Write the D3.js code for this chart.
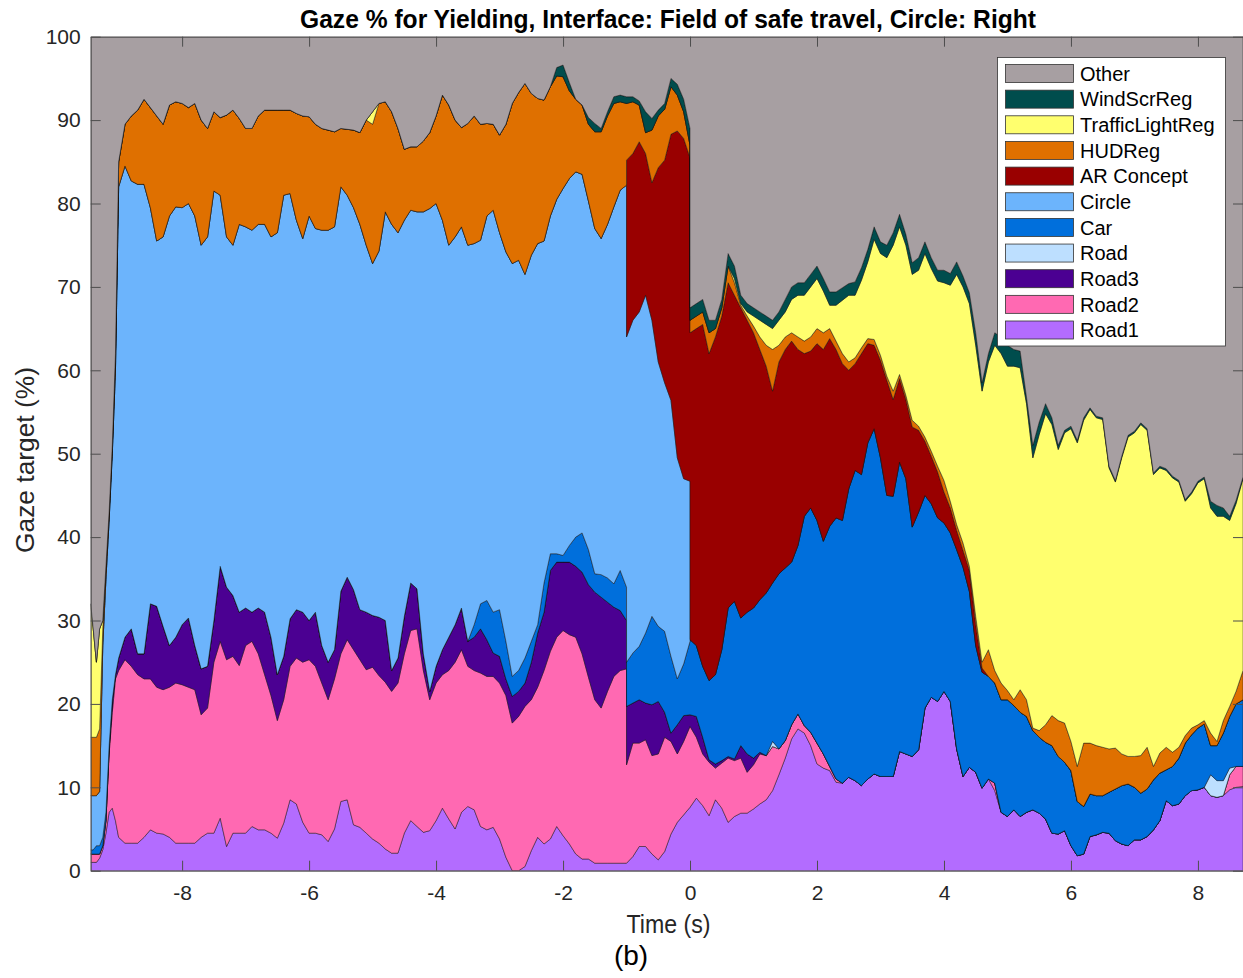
<!DOCTYPE html>
<html>
<head>
<meta charset="utf-8">
<script src="https://cdn.jsdelivr.net/npm/d3@7"></script>
<style>
  body { margin: 0; background: #fff; }
  svg { display: block; font-family: "Liberation Sans", Arial, Helvetica, sans-serif; }
</style>
</head>
<body>
<div id="chart"></div>
<script>
// time axis (s); -1.0 and 0.0 appear twice for the sharp jumps
var time = [
  -9.44, -9.4, -9.35, -9.3, -9.25, -9.2, -9.15, -9.1, -9.05, -9.0,
  -8.9, -8.8, -8.7, -8.6, -8.5, -8.4, -8.3, -8.2, -8.1, -8.0,
  -7.9, -7.8, -7.7, -7.6, -7.5, -7.4, -7.3, -7.2, -7.1, -7.0,
  -6.9, -6.8, -6.7, -6.6, -6.5, -6.4, -6.3, -6.2, -6.1, -6.0,
  -5.9, -5.8, -5.7, -5.6, -5.5, -5.4, -5.3, -5.2, -5.1, -5.0,
  -4.9, -4.8, -4.7, -4.6, -4.5, -4.4, -4.3, -4.2, -4.1, -4.0,
  -3.9, -3.8, -3.7, -3.6, -3.5, -3.4, -3.3, -3.2, -3.1, -3.0,
  -2.9, -2.8, -2.7, -2.6, -2.5, -2.4, -2.3, -2.2, -2.1, -2.0,
  -1.9, -1.8, -1.7, -1.6, -1.5, -1.4, -1.3, -1.2, -1.1, -1.0,
  -1.0, -0.9, -0.8, -0.7, -0.6, -0.5, -0.4, -0.3, -0.2, -0.1,
  0.0, 0.0, 0.1, 0.2, 0.3, 0.4, 0.5, 0.6, 0.7, 0.8,
  0.9, 1.0, 1.1, 1.2, 1.3, 1.4, 1.5, 1.6, 1.7, 1.8,
  1.9, 2.0, 2.1, 2.2, 2.3, 2.4, 2.5, 2.6, 2.7, 2.8,
  2.9, 3.0, 3.1, 3.2, 3.3, 3.4, 3.5, 3.6, 3.7, 3.8,
  3.9, 4.0, 4.1, 4.2, 4.3, 4.4, 4.5, 4.6, 4.7, 4.8,
  4.9, 5.0, 5.1, 5.2, 5.3, 5.4, 5.5, 5.6, 5.7, 5.8,
  5.9, 6.0, 6.1, 6.2, 6.3, 6.4, 6.5, 6.6, 6.7, 6.8,
  6.9, 7.0, 7.1, 7.2, 7.3, 7.4, 7.5, 7.6, 7.7, 7.8,
  7.9, 8.0, 8.1, 8.2, 8.3, 8.4, 8.5, 8.6, 8.71
];

// gaze share per target (%), bottom layer first
var road1 = [
  1, 1, 1, 1.5, 2.5, 4.5, 7, 7.5, 6, 4,
  3.3, 3.3, 3.3, 4, 4.9, 4.5, 4.4, 4, 3.3, 3.3,
  3.3, 3.3, 4, 4.5, 4.5, 6.3, 2.9, 4.5, 4.5, 4.5,
  5.3, 4.9, 4.9, 4.5, 3.9, 5.7, 8.5, 8, 5.8, 4.5,
  4.5, 4.3, 3.5, 5, 8.3, 8.5, 5.5, 5.2, 4.5, 3.8,
  3.3, 2.6, 2.1, 2.1, 4.5, 6, 5.3, 4.6, 4.8, 6,
  7.5, 6.2, 5, 7, 7.7, 7.3, 5.3, 4.9, 5.2, 3.8,
  1.6, 0, 0, 0.5, 2.4, 4, 3.2, 3.8, 5.3, 4.2,
  3.2, 2, 1.4, 1.4, 0.9, 0.9, 0.9, 0.9, 0.9, 0.9,
  0.9, 1.7, 2.9, 2.9, 2, 1.3, 2.3, 4.4, 5.8, 6.7,
  7.6, 7.6, 8.7, 7.8, 6.6, 8.5, 7.5, 5.8, 6.5, 6.9,
  6.9, 7.4, 8, 8.5, 9.6, 11.5, 13.5, 15.8, 17, 16.5,
  15, 12.8, 12.3, 12, 10.6, 10.5, 11.2, 10.8, 10.2, 11,
  11.6, 11.3, 11.3, 11.3, 14.3, 14, 13.7, 14.5, 19.5, 20.8,
  20.3, 21.5, 20.3, 14.6, 11.3, 12.4, 11.8, 9.9, 11, 9.6,
  7, 6.5, 7.3, 6.5, 7, 7.3, 6.9, 6.2, 4.5, 4.4,
  4.8, 3, 1.8, 2, 4.1, 4.3, 4.6, 4.5, 3.6, 3.2,
  3, 3.7, 3.7, 4.1, 4.9, 6, 8.4, 7.8, 8, 9,
  9.6, 9.7, 10, 9, 8.8, 9, 9.7, 10, 10.1
];
var road2 = [
  1, 1, 1, 0.5, 0.5, 1.5, 7, 11.5, 17, 20,
  22, 21.2, 20.2, 19, 18.1, 17.5, 17.3, 18, 19.2, 19,
  18.7, 18.4, 14.7, 15, 20.5, 21.2, 22.4, 21.2, 20.1, 22.5,
  22.2, 21.1, 18.6, 16.5, 14.1, 14.8, 16, 17.5, 19.2, 20.8,
  20, 18.2, 17, 18, 17.7, 19.2, 21, 20.1, 19.6, 20.6,
  20.1, 20, 19.4, 20.4, 21.5, 22.8, 23.7, 19.4, 15.7, 16.5,
  16, 17.8, 20, 19.5, 16.8, 16.7, 18.4, 18.4, 18.1, 18.7,
  19.4, 17.7, 18.5, 19.2, 18.1, 18, 20.8, 22.5, 22.7, 24.6,
  25.1, 26, 24.6, 21.8, 19.6, 18.6, 20.6, 22.4, 23.1, 23.3,
  11.8, 13.6, 12.4, 12.8, 11.8, 12.7, 13.7, 11.1, 8.2, 8.8,
  9.7, 9.7, 7.3, 6.2, 6.4, 3.8, 5.4, 7.7, 6.7, 6.6,
  4.9, 5.3, 6, 5.3, 5.3, 3.1, 2.1, 1.7, 1.8, 0.9,
  1.6, 2.5, 1.7, 0.5, 0.4, 0, 0, 0, 0, 0,
  0, 0, 0, 0, 0, 0, 0, 0, 0, 0,
  0, 0, 0, 0, 0, 0, 0, 0, 0, 0.9,
  0, 0, 0, 0, 0, 0, 0, 0, 0, 0,
  0, 0, 0, 0, 0, 0, 0, 0, 0, 0,
  0, 0, 0, 0, 0, 0, 0, 0, 0, 0,
  0, 0, 0, 0, 0, 0, 1.8, 2.5, 2.4
];
var road3 = [
  0, 0, 0, 0, 0, 0, 0.5, 1.5, 0.5, 1.5,
  2.7, 4.5, 2.5, 3, 9, 9.7, 7.6, 5, 5.5, 7.2,
  8.3, 5.3, 5.5, 5, 5, 9, 8.7, 7.3, 6.4, 4.5,
  3.5, 5.5, 7.5, 7, 5.5, 5.2, 5.7, 5.8, 6, 4.7,
  6.5, 4.5, 4.5, 3.5, 7.5, 7.5, 7.2, 6, 6.9, 6.2,
  7, 7.4, 2.5, 3, 4.5, 5.7, 4.8, 2, 1, 2,
  3, 4, 4.5, 5, 3, 4, 5.3, 4.4, 2.8, 3.2,
  2, 3.2, 3, 2.8, 4.5, 6.5, 7, 9.7, 9, 8.2,
  8.7, 8.5, 9.8, 11.1, 12.9, 13.3, 10.7, 8.3, 7.2, 5.8,
  7, 4.8, 5.2, 4.4, 6.1, 6.3, 3, 1, 3.5, 3.1,
  1.4, 1.4, 2.5, 2, 0.3, 0.5, 0.3, 0.2, 0.2, 1.5,
  2.2, 0.8, 0.2, 0, 0, 0, 0, 0, 0, 0,
  0, 0, 0, 0, 0, 0, 0, 0, 0, 0,
  0, 0, 0, 0, 0, 0, 0, 0, 0, 0,
  0, 0, 0, 0, 0, 0, 0, 0, 0, 0,
  0, 0, 0, 0, 0, 0, 0, 0, 0, 0,
  0, 0, 0, 0, 0, 0, 0, 0, 0, 0,
  0, 0, 0, 0, 0, 0, 0, 0, 0, 0,
  0, 0, 0, 0, 0, 0, 0, 0, 0
];
var road = [
  0, 0, 0, 0, 0, 0, 0, 0, 0, 0,
  0, 0, 0, 0, 0, 0, 0, 0, 0, 0,
  0, 0, 0, 0, 0, 0, 0, 0, 0, 0,
  0, 0, 0, 0, 0, 0, 0, 0, 0, 0,
  0, 0, 0, 0, 0, 0, 0, 0, 0, 0,
  0, 0, 0, 0, 0, 0, 0, 0, 0, 0,
  0, 0, 0, 0, 0, 0, 0, 0, 0, 0,
  0, 0, 0, 0, 0, 0, 0, 0, 0, 0,
  0, 0, 0, 0, 0, 0, 0, 0, 0, 0,
  0, 0, 0, 0, 0, 0, 0, 0, 0, 0,
  0, 0, 0, 0, 0, 0, 0, 0, 0, 0,
  0, 0, 0, 0, 0.6, 0, 0, 0, 0, 0,
  0, 0, 0, 0, 0, 0, 0, 0, 0, 0,
  0, 0, 0, 0, 0, 0, 0, 0, 0, 0,
  0, 0, 0, 0, 0, 0, 0, 0, 0, 0,
  0, 0, 0, 0, 0, 0, 0, 0, 0, 0,
  0, 0, 0, 0, 0, 0, 0, 0, 0, 0,
  0, 0, 0, 0, 0, 0, 0, 0, 0, 0,
  0, 0, 0, 2.5, 2, 1.8, 0.8, 0, 0
];
var car = [
  0.5, 0.5, 1, 1, 1, 1, 0.5, 0, 0, 0,
  0, 0, 0, 0, 0, 0, 0, 0, 0, 0,
  0, 0, 0, 0, 0, 0, 0, 0, 0, 0,
  0, 0, 0, 0, 0, 0, 0, 0, 0, 0,
  0, 0, 0, 0, 0, 0, 0, 0, 0, 0,
  0, 0, 0, 0, 0, 0, 0, 0, 0, 0,
  0, 0, 0, 0, 0, 1.5, 3, 4.7, 4.9, 5.6,
  4.5, 2.4, 2.5, 3, 2.5, 1, 3.5, 2, 1, 0.8,
  2, 3.5, 4.7, 4.2, 2.2, 2.7, 2.9, 2.8, 4.8, 4,
  5.3, 6, 6.4, 8.4, 10.6, 9, 9.7, 9.2, 5.5, 6.2,
  8.8, 9, 8.5, 8.5, 9.5, 10.7, 13.3, 17.8, 18.9, 15.3,
  17, 18, 18.3, 19.5, 19, 21, 20.7, 19.5, 20.2, 25.1,
  26.9, 26.7, 25.5, 28.8, 31.3, 31.5, 34.6, 37.2, 37.3, 40.3,
  41.4, 38.2, 33.7, 33.6, 34.7, 33, 27.5, 28.5, 25.5, 23.2,
  22, 20.2, 20.2, 23.9, 25.1, 21.1, 15.2, 13.9, 12.3, 12,
  13.5, 14, 12.5, 12.5, 11.5, 9.5, 9.1, 9.2, 10.5, 9.3,
  8.2, 9, 6.5, 5.7, 5.1, 4.7, 4.4, 4.9, 6.2, 7,
  7.4, 6.3, 5.6, 5.7, 6, 5.7, 3.7, 4.7, 5.5, 6.3,
  6.7, 7.4, 7.6, 3.5, 4.2, 5.7, 6.2, 7.5, 8
];
var circle = [
  6.5, 6.5, 6, 6.5, 23, 28, 27, 29.5, 36.5, 56.5,
  56.5, 53.7, 56.3, 56.3, 47.5, 43.8, 46.7, 51.5, 51.6, 50,
  49.7, 51.5, 50.8, 51.5, 51.5, 44.5, 42, 42, 46.5, 45.7,
  45.8, 46, 46.5, 48, 53, 55.3, 51, 46.7, 44.8, 48.5,
  46, 49.8, 51.8, 50.7, 48.5, 45.8, 45.8, 46.2, 44, 42.2,
  43.9, 49, 53.5, 51, 47.5, 44.7, 45.2, 53, 57.9, 55.5,
  51.5, 47, 46.5, 45.7, 47.5, 45.7, 43.6, 46.1, 48.2, 45.2,
  46.7, 49.5, 49.2, 46, 46.3, 45.7, 41, 40.5, 42.5, 44,
  44, 43.8, 43, 41.8, 41.4, 40.3, 42.4, 45.2, 45.6, 48.2,
  39, 39.9, 40.1, 40.5, 35.5, 31.7, 29.8, 30.7, 26.5, 22.2,
  19.2, 0, 0, 0, 0, 0, 0, 0, 0, 0,
  0, 0, 0, 0, 0, 0, 0, 0, 0, 0,
  0, 0, 0, 0, 0, 0, 0, 0, 0, 0,
  0, 0, 0, 0, 0, 0, 0, 0, 0, 0,
  0, 0, 0, 0, 0, 0, 0, 0, 0, 0,
  0, 0, 0, 0, 0, 0, 0, 0, 0, 0,
  0, 0, 0, 0, 0, 0, 0, 0, 0, 0,
  0, 0, 0, 0, 0, 0, 0, 0, 0, 0,
  0, 0, 0, 0, 0, 0, 0, 0, 0
];
var arConcept = [
  0, 0, 0, 0, 0, 0, 0, 0, 0, 0,
  0, 0, 0, 0, 0, 0, 0, 0, 0, 0,
  0, 0, 0, 0, 0, 0, 0, 0, 0, 0,
  0, 0, 0, 0, 0, 0, 0, 0, 0, 0,
  0, 0, 0, 0, 0, 0, 0, 0, 0, 0,
  0, 0, 0, 0, 0, 0, 0, 0, 0, 0,
  0, 0, 0, 0, 0, 0, 0, 0, 0, 0,
  0, 0, 0, 0, 0, 0, 0, 0, 0, 0,
  0, 0, 0, 0, 0, 0, 0, 0, 0, 0,
  21.2, 20, 20.4, 17, 16.5, 23.3, 26.7, 31.9, 39.2, 40.8,
  38.8, 36.8, 38, 41, 39.2, 40.5, 40, 39, 36.7, 37.2,
  35, 33, 30, 27.2, 23, 25.4, 26.2, 26.5, 23.5, 19.5,
  18.8, 21.2, 23, 22.5, 20.2, 18.8, 14.2, 12.8, 14.5, 11.9,
  10, 11.7, 13.8, 11.6, 10, 9.5, 12, 9.8, 6.5, 5.7,
  5.5, 3.7, 3, 2.3, 2, 2.5, 2.5, 0.5, 0, 0,
  0, 0, 0, 0, 0, 0, 0, 0, 0, 0,
  0, 0, 0, 0, 0, 0, 0, 0, 0, 0,
  0, 0, 0, 0, 0, 0, 0, 0, 0, 0,
  0, 0, 0, 0, 0, 0, 0, 0, 0
];
var hudReg = [
  7, 7, 7, 7.5, 2, 1.5, 1, 1, 2, 3,
  5, 7.8, 8.9, 10.2, 12, 15, 13.5, 13.3, 12.6, 12.5,
  11.5, 13.5, 15, 13, 9.5, 9.3, 14.6, 16.2, 12.7, 11.8,
  12.2, 13, 13.7, 15.2, 14.7, 10.2, 10, 12.8, 14.7, 11.9,
  12.5, 12.2, 12, 11.4, 7, 7.9, 9.3, 11, 15, 16.7,
  17.7, 13.2, 13.5, 12.5, 8.5, 7.6, 7.8, 8.5, 9.1, 10.5,
  15, 16.8, 14, 11.9, 14.6, 15.3, 13.9, 11.1, 10.3, 11.7,
  15.3, 19.2, 20.1, 22.9, 19.4, 17.4, 16.9, 15.5, 14.8, 13.4,
  10.5, 8.7, 8.3, 9.2, 11.6, 12.8, 13, 12.4, 10.6, 9.8,
  6.8, 6.2, 4.4, 2.5, 6.3, 6.2, 6.1, 5.7, 4.3, 3.2,
  1.5, 1.5, 1.5, 1.5, 2.5, 1, 1, 2, 1.5, 0.3,
  0.5, 0.8, 1.5, 2.5, 5, 2, 1.5, 1, 1.5, 1.5,
  1.7, 1.8, 2, 1.2, 1, 1.2, 1, 0.7, 0.7, 0.6,
  0.7, 0.6, 0.5, 1, 0.5, 0.5, 0.8, 0.5, 0.5, 0.6,
  0.7, 1.4, 0.8, 0.7, 0.9, 0.5, 1, 0.7, 3.2, 1.5,
  2, 1.1, 0.7, 2.7, 2, 0.3, 0.8, 2.1, 3.6, 4.3,
  4.7, 3.5, 4.2, 7.6, 6.1, 6, 5.8, 5.2, 4.9, 3.8,
  3.3, 3.7, 4.5, 5, 1.6, 2.4, 2.7, 1.7, 1.3, 0.9,
  0.8, 0.4, 0.4, 1.5, 0.5, 1.5, 1.2, 1.5, 3.5
];
var trafficLightReg = [
  16, 13, 9, 12, 1, 0, 0, 0, 0, 0,
  0, 0, 0, 0, 0, 0, 0, 0, 0, 0,
  0, 0, 0, 0, 0, 0, 0, 0, 0, 0,
  0, 0, 0, 0, 0, 0, 0, 0, 0, 0,
  0, 0, 0, 0, 0, 0, 0, 0, 0, 1.5,
  0, 0, 0, 0, 0, 0, 0, 0, 0, 0,
  0, 0, 0, 0, 0, 0, 0, 0, 0, 0,
  0, 0, 0, 0, 0, 0, 0, 0, 0, 0,
  0, 0, 0, 0, 0, 0, 0, 0, 0, 0,
  0, 0, 0, 0, 0, 0, 0, 0, 0, 0,
  0, 0, 0, 0, 0, 0, 0, 0, 0.5, 0.2,
  0.5, 1.2, 2, 2.5, 2.5, 3, 3, 4, 5, 5.5,
  6, 6, 5, 2.8, 4.3, 6.4, 8, 7.5, 8.1, 9.2,
  12, 12.2, 14.2, 17.5, 17.7, 18, 17.5, 18.7, 22, 21.9,
  22.2, 23.7, 25.9, 30, 30.7, 31.5, 32.5, 32.5, 34.5, 39,
  39.5, 38.9, 40, 38.6, 35.5, 32.4, 35.5, 37.3, 34.9, 32.5,
  34.8, 37.5, 38.8, 38.7, 40, 39.3, 39.3, 33.7, 31.9, 35.5,
  38.3, 38.8, 39.7, 38, 35, 34.2, 33.2, 32.9, 31.8, 28.1,
  28.1, 29, 29, 27, 27, 24.5, 22.3, 22.5, 23
];
var windScrReg = [
  0, 0, 0, 0, 0, 0, 0, 0, 0, 0,
  0, 0, 0, 0, 0, 0, 0, 0, 0, 0,
  0, 0, 0, 0, 0, 0, 0, 0, 0, 0,
  0, 0, 0, 0, 0, 0, 0, 0, 0, 0,
  0, 0, 0, 0, 0, 0, 0, 0, 0, 0,
  0, 0, 0, 0, 0, 0, 0, 0, 0, 0,
  0, 0, 0, 0, 0, 0, 0, 0, 0, 0,
  0, 0, 0, 0, 0, 0, 0, 0, 1, 1.4,
  1, 0, 0, 0.8, 1, 0.4, 0.5, 0.8, 0.8, 0.8,
  0.8, 0.6, 0.5, 2.5, 1.4, 0.7, 0.7, 1, 1.3, 1.5,
  2, 1.5, 1.5, 1.5, 1.5, 1, 1, 1.5, 1.5, 1,
  1, 1, 1, 1, 1, 1, 1.5, 1.5, 1.5, 1.5,
  1.5, 1.5, 1.5, 1.6, 1.6, 1.5, 1.4, 1.6, 1.5, 1.5,
  1.5, 1.4, 1.5, 1.5, 1.5, 1.3, 1.4, 1.5, 1.4, 1.3,
  1.3, 1.5, 1.4, 1.5, 1.3, 1.3, 1.5, 1, 1, 1.5,
  2, 2.5, 2, 2, 0.8, 1.5, 1.5, 1.2, 0.8, 0.5,
  0.3, 0.3, 0.3, 0.3, 0.2, 0.2, 0.2, 0.2, 0.2, 0.2,
  0.2, 0.2, 0.2, 0.2, 0.2, 0.2, 0.2, 0.2, 0.2, 0.2,
  0.2, 0.2, 0.2, 0.8, 1.3, 1, 0.5, 0.4, 0.2
];
var other = [
  68, 71, 75, 71, 70, 63.5, 57, 49, 38, 15,
  10.5, 9.5, 8.8, 7.5, 8.5, 9.5, 10.5, 8.2, 7.8, 8,
  8.5, 8, 10, 11, 9, 9.7, 9.4, 8.8, 9.8, 11,
  11, 9.5, 8.8, 8.8, 8.8, 8.8, 8.8, 9.2, 9.5, 9.6,
  10.5, 11, 11.2, 11.4, 11, 11.1, 11.2, 11.5, 10, 9,
  8, 7.8, 9, 11, 13.5, 13.2, 13.2, 12.5, 11.5, 9.5,
  7, 8.2, 10, 10.9, 10.4, 9.5, 10.5, 10.4, 10.5, 11.8,
  10.5, 8, 6.7, 5.6, 6.8, 7.4, 7.6, 6, 3.7, 3.4,
  5.5, 7.5, 8.2, 9.7, 10.4, 11, 9, 7.2, 7, 7.2,
  7.2, 7.2, 7.7, 9, 9.8, 8.8, 8, 5, 5.7, 7.5,
  11, 32.5, 32, 31.5, 34, 34, 31.5, 26, 27.5, 31,
  32, 32.5, 33, 33.5, 34, 33, 31.5, 30, 29.5, 29.5,
  28.5, 27.5, 29, 30.6, 30.6, 30.1, 29.6, 29.4, 27.7, 25.5,
  22.8, 24.6, 25, 23.5, 21.3, 23.7, 27.1, 26.5, 24.6, 26.5,
  28, 28, 28.4, 27, 28.7, 30.7, 35.5, 41.5, 38, 35.5,
  36, 37, 37.5, 37.7, 43.2, 49, 46.2, 44, 45.7, 49,
  47.2, 46.7, 48.4, 45.7, 44.5, 45.5, 45.7, 51.5, 53.2, 50.3,
  47.8, 47.3, 46.3, 47, 52.3, 51.5, 51.8, 52.7, 53.2, 55.5,
  54.6, 53.3, 52.8, 55.7, 56.2, 56.5, 57.5, 55.6, 52.8
];

var keys = ["Road1", "Road2", "Road3", "Road", "Car", "Circle", "AR Concept",
            "HUDReg", "TrafficLightReg", "WindScrReg", "Other"];
var seriesValues = [road1, road2, road3, road, car, circle, arConcept,
                    hudReg, trafficLightReg, windScrReg, other];
var colors = ["#b36cff", "#ff69b2", "#4b0092", "#bddfff", "#006fdc", "#6cb4fc",
              "#990000", "#df7000", "#ffff6e", "#004d4d", "#a79fa2"];
var xTicks = [-8, -6, -4, -2, 0, 2, 4, 6, 8];
var yTicks = [0, 10, 20, 30, 40, 50, 60, 70, 80, 90, 100];

var width = 1243, height = 978;
var plot = {left: 90.7, right: 1243, top: 36.7, bottom: 870.7};

var svg = d3.select("#chart").append("svg")
  .attr("width", width)
  .attr("height", height);

var x = d3.scaleLinear().domain([-9.44, 8.71]).range([plot.left, plot.right]);
var y = d3.scaleLinear().domain([0, 100]).range([plot.bottom, plot.top]);

// rows for the stack
var rows = time.map(function(t, i) {
  var r = {t: t};
  keys.forEach(function(k, j) { r[k] = seriesValues[j][i]; });
  return r;
});
var stacked = d3.stack().keys(keys)(rows);

svg.append("clipPath").attr("id", "plotClip")
  .append("rect")
    .attr("x", plot.left).attr("y", plot.top)
    .attr("width", plot.right - plot.left).attr("height", plot.bottom - plot.top);

svg.append("rect")
  .attr("x", plot.left).attr("y", plot.top)
  .attr("width", plot.right - plot.left).attr("height", plot.bottom - plot.top)
  .attr("fill", colors[10]);

var area = d3.area()
  .x(function(d) { return x(d.data.t); })
  .y0(function(d) { return y(d[0]); })
  .y1(function(d) { return y(d[1]); });

svg.append("g")
    .attr("clip-path", "url(#plotClip)")
  .selectAll("path")
  .data(stacked)
  .enter()
  .append("path")
    .attr("d", area)
    .attr("fill", function(d, i) { return colors[i]; })
    .attr("stroke", "#111")
    .attr("stroke-width", 0.6)
    .attr("stroke-opacity", 0.75)
    .attr("stroke-linejoin", "round");

// axes, MATLAB style box with inward ticks
function styleAxis(g) {
  g.selectAll(".domain").attr("stroke", "#4d4d4d").attr("stroke-width", 1);
  g.selectAll(".tick line").attr("stroke", "#4d4d4d");
  g.selectAll("text").attr("fill", "#262626").style("font-size", "21px")
    .style("font-family", "'Liberation Sans', Arial, sans-serif");
}

svg.append("g")
  .attr("transform", "translate(0," + plot.bottom + ")")
  .call(d3.axisBottom(x).tickValues(xTicks).tickSize(-10).tickSizeOuter(0)
        .tickPadding(14).tickFormat(function(d) { return String(d); }))
  .call(styleAxis);

svg.append("g")
  .attr("transform", "translate(" + plot.left + ",0)")
  .call(d3.axisLeft(y).tickValues(yTicks).tickSize(-10).tickSizeOuter(0)
        .tickPadding(10).tickFormat(function(d) { return String(d); }))
  .call(styleAxis);

svg.append("g")
  .attr("transform", "translate(0," + plot.top + ")")
  .call(d3.axisTop(x).tickValues(xTicks).tickSize(-10).tickSizeOuter(0).tickFormat(""))
  .call(styleAxis);

svg.append("g")
  .attr("transform", "translate(" + plot.right + ",0)")
  .call(d3.axisRight(y).tickValues(yTicks).tickSize(-10).tickSizeOuter(0).tickFormat(""))
  .call(styleAxis);

// titles
svg.append("text")
  .attr("x", 668).attr("y", 28)
  .attr("text-anchor", "middle")
  .attr("font-weight", "bold")
  .attr("font-size", "25px")
  .attr("textLength", 736)
  .attr("lengthAdjust", "spacingAndGlyphs")
  .attr("fill", "#000")
  .text("Gaze % for Yielding, Interface: Field of safe travel, Circle: Right");

svg.append("text")
  .attr("x", 668.5).attr("y", 933)
  .attr("text-anchor", "middle")
  .attr("font-size", "25px")
  .attr("textLength", 84)
  .attr("lengthAdjust", "spacingAndGlyphs")
  .attr("fill", "#262626")
  .text("Time (s)");

svg.append("text")
  .attr("transform", "translate(33.5,460) rotate(-90)")
  .attr("text-anchor", "middle")
  .attr("font-size", "26px")
  .attr("textLength", 186)
  .attr("lengthAdjust", "spacingAndGlyphs")
  .attr("fill", "#262626")
  .text("Gaze target (%)");

svg.append("text")
  .attr("x", 631).attr("y", 965)
  .attr("text-anchor", "middle")
  .attr("font-size", "28px")
  .attr("fill", "#000")
  .text("(b)");

// legend, top entry = top layer
var legend = svg.append("g");
legend.append("rect")
  .attr("x", 997.5).attr("y", 57.5)
  .attr("width", 228).attr("height", 288.5)
  .attr("fill", "#fff")
  .attr("stroke", "#333")
  .attr("stroke-width", 0.8);

var legendKeys = keys.slice().reverse();
var legendColors = colors.slice().reverse();
var item = legend.selectAll(".item")
  .data(legendKeys)
  .enter()
  .append("g")
    .attr("class", "item")
    .attr("transform", function(d, i) { return "translate(0," + (73.5 + i * 25.65) + ")"; });

item.append("rect")
  .attr("x", 1005.5).attr("y", -9)
  .attr("width", 68).attr("height", 18)
  .attr("fill", function(d, i) { return legendColors[i]; })
  .attr("stroke", "#333")
  .attr("stroke-width", 0.8);

item.append("text")
  .attr("x", 1080).attr("y", 0).attr("dy", "0.36em")
  .attr("font-size", "20px")
  .attr("fill", "#000")
  .text(function(d) { return d; });
</script>
</body>
</html>
